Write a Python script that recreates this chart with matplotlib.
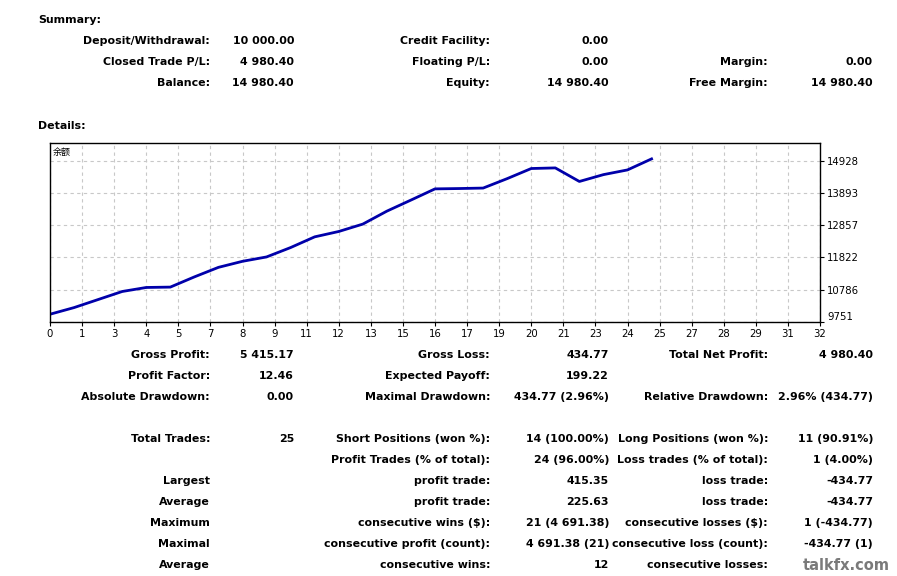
import numpy as np
import matplotlib.pyplot as plt

W, H = 897, 576

# balance after each closed trade (trade 0 = deposit)
trades = list(range(26))
balance = [10000.00, 10213, 10471, 10729, 10858, 10870, 11197, 11503, 11697, 11837,
           12138, 12481, 12653, 12890, 13305.35, 13660, 14019, 14030, 14045, 14348,
           14672, 14691.38, 14256.61, 14476, 14627, 14980.40]
y_ticks = [9751, 10786, 11822, 12857, 13893, 14928]
x_max = 32

summary_rows = [
    ("Deposit/Withdrawal:", "10 000.00", "Credit Facility:", "0.00", "", ""),
    ("Closed Trade P/L:", "4 980.40", "Floating P/L:", "0.00", "Margin:", "0.00"),
    ("Balance:", "14 980.40", "Equity:", "14 980.40", "Free Margin:", "14 980.40"),
]
stats_rows = [
    ("Gross Profit:", "5 415.17", "Gross Loss:", "434.77", "Total Net Profit:", "4 980.40"),
    ("Profit Factor:", "12.46", "Expected Payoff:", "199.22", "", ""),
    ("Absolute Drawdown:", "0.00", "Maximal Drawdown:", "434.77 (2.96%)", "Relative Drawdown:", "2.96% (434.77)"),
]
# last value of the table is hidden under the watermark in the original
trade_rows = [
    ("Total Trades:", "25", "Short Positions (won %):", "14 (100.00%)", "Long Positions (won %):", "11 (90.91%)"),
    ("", "", "Profit Trades (% of total):", "24 (96.00%)", "Loss trades (% of total):", "1 (4.00%)"),
    ("Largest", "", "profit trade:", "415.35", "loss trade:", "-434.77"),
    ("Average", "", "profit trade:", "225.63", "loss trade:", "-434.77"),
    ("Maximum", "", "consecutive wins ($):", "21 (4 691.38)", "consecutive losses ($):", "1 (-434.77)"),
    ("Maximal", "", "consecutive profit (count):", "4 691.38 (21)", "consecutive loss (count):", "-434.77 (1)"),
    ("Average", "", "consecutive wins:", "12", "consecutive losses:", ""),
]

plt.rcParams['font.family'] = ['DejaVu Sans', 'Noto Sans CJK SC']

fig = plt.figure(figsize=(W / 100, H / 100), dpi=100)
fig.patch.set_facecolor('white')


def put(x, y, s, ha='right', **kw):
    fig.text(x / W, 1 - y / H, s, ha=ha, va='center', fontsize=7.9,
             fontweight='bold', color='black', **kw)


col_x = [210, 294, 490, 609, 768, 873]


def table(rows, y0):
    for i, row in enumerate(rows):
        for x, s in zip(col_x, row):
            if s:
                put(x, y0 + i * 21, s)


put(38, 20, "Summary:", ha='left')
table(summary_rows, 41)
put(38, 126, "Details:", ha='left')
table(stats_rows, 355)
table(trade_rows, 439)

# balance chart
ax = fig.add_axes([50 / W, 1 - 322 / H, 770 / W, 179 / H])
ax.plot(trades, balance, color='#0000aa', linewidth=2.0, solid_joinstyle='round')
ax.set_xlim(0, x_max)
ax.set_ylim(9751, 15490)

xt = [i * x_max / 24 for i in range(25)]
ax.set_xticks(xt)
ax.set_xticklabels([str(int(round(v))) for v in xt])
ax.set_yticks(y_ticks)
ax.set_yticklabels([str(v) for v in y_ticks])
ax.yaxis.tick_right()
ax.tick_params(axis='both', labelsize=7.3, length=3, width=0.8, pad=2, colors='black')
ax.get_yticklabels()[0].set_verticalalignment('bottom')
ax.grid(True, color='#c8c8c8', linestyle=(0, (3, 3)), linewidth=0.8)
for sp in ax.spines.values():
    sp.set_linewidth(1.0)
    sp.set_color('black')
ax.text(0.004, 0.95, "余额", transform=ax.transAxes, fontsize=6.5,
        family=['Noto Sans CJK SC', 'DejaVu Sans'], ha='left', va='center')

fig.text(846 / W, 1 - 565 / H, "talkfx.com", ha='center', va='center',
         fontsize=10.5, fontweight='bold', color='#7a7a7a')

fig.savefig('out.png', dpi=100, facecolor='white')
